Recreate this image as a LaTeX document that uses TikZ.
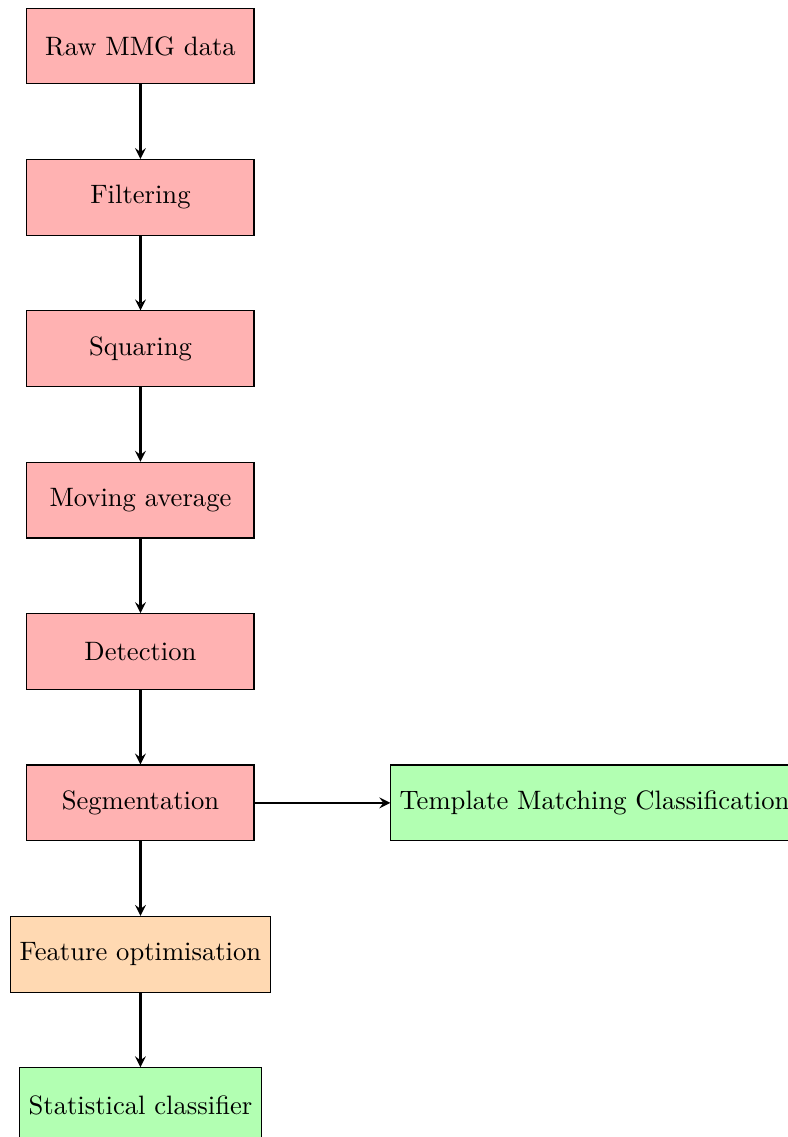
\documentclass[tikz,border=0pt]{standalone}
\usetikzlibrary{arrows}
\begin{document}
\begin{tikzpicture}[x=1pt,y=1pt,
  box/.style={rectangle, minimum width=3cm, minimum height=1cm, text centered, draw=black},
  redbox/.style={box, fill=red!30},
  greenbox/.style={box, fill=green!30},
  orangebox/.style={box, fill=orange!30},
  arrow/.style={thick,->,>=stealth}]
\useasboundingbox (0,0) rectangle (295.9,-427.4);
\node[redbox] (raw) at (52.8,-17.3) {Raw MMG data};
\node[redbox] (filt) at (52.8,-74.2) {Filtering};
\node[redbox] (sq) at (52.8,-131.1) {Squaring};
\node[redbox] (ma) at (52.8,-188.0) {Moving average};
\node[redbox] (det) at (52.8,-244.9) {Detection};
\node[redbox] (seg) at (52.8,-301.8) {Segmentation};
\node[greenbox] (tm) at (223.5,-301.8) {Template Matching Classification};
\node[orangebox] (feat) at (52.8,-358.7) {Feature optimisation};
\node[greenbox] (stat) at (52.8,-415.6) {Statistical classifier};
\draw[arrow] (raw) -- (filt);
\draw[arrow] (filt) -- (sq);
\draw[arrow] (sq) -- (ma);
\draw[arrow] (ma) -- (det);
\draw[arrow] (det) -- (seg);
\draw[arrow] (seg) -- (tm);
\draw[arrow] (seg) -- (feat);
\draw[arrow] (feat) -- (stat);
\end{tikzpicture}
\end{document}
